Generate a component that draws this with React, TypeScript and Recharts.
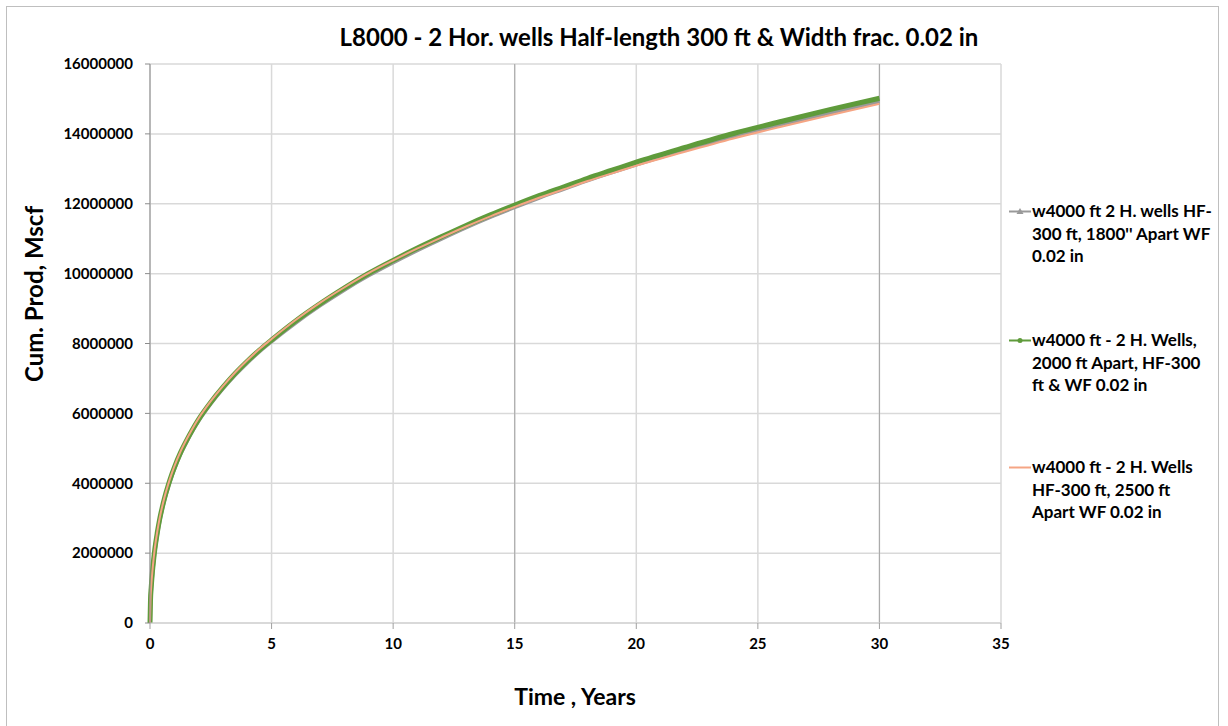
import { CartesianGrid, Line, LineChart, ReferenceLine, XAxis, YAxis } from "recharts";

// time axis, years
const years = [
  0, 0.02, 0.05, 0.1, 0.15, 0.2, 0.3, 0.4, 0.5, 0.6, 0.75, 0.9, 1, 1.25, 1.5, 1.75, 2, 2.5, 3, 3.5, 4, 4.5, 5, 6, 7,
  8, 9, 10, 11, 12, 13, 14, 15, 16, 17, 18, 19, 20, 22, 24, 26, 28, 30,
];

// cumulative production, Mscf
const apart1800 = [
  0, 620000, 990000, 1430000, 1780000, 2080000, 2550000, 2940000, 3260000, 3540000, 3900000, 4220000, 4410000,
  4830000, 5180000, 5500000, 5790000, 6280000, 6710000, 7100000, 7450000, 7770000, 8060000, 8600000, 9090000,
  9540000, 9950000, 10320000, 10670000, 11000000, 11320000, 11620000, 11900000, 12170000, 12420000, 12670000,
  12900000, 13120000, 13540000, 13930000, 14280000, 14610000, 14930000,
];
const apart2000 = [
  0, 640000, 1020000, 1470000, 1820000, 2120000, 2590000, 2980000, 3300000, 3580000, 3940000, 4260000, 4450000,
  4870000, 5220000, 5540000, 5830000, 6320000, 6750000, 7140000, 7490000, 7810000, 8100000, 8650000, 9140000,
  9590000, 10010000, 10380000, 10730000, 11060000, 11380000, 11680000, 11960000, 12230000, 12480000, 12730000,
  12960000, 13190000, 13610000, 14010000, 14360000, 14700000, 15020000,
];
const apart2500 = [
  0, 650000, 1040000, 1490000, 1850000, 2150000, 2620000, 3010000, 3330000, 3610000, 3970000, 4290000, 4480000,
  4900000, 5250000, 5570000, 5860000, 6350000, 6780000, 7170000, 7520000, 7840000, 8130000, 8680000, 9170000,
  9610000, 10020000, 10380000, 10720000, 11040000, 11350000, 11640000, 11910000, 12170000, 12410000, 12650000,
  12870000, 13090000, 13490000, 13870000, 14210000, 14540000, 14860000,
];

const xTicks = [0, 5, 10, 15, 20, 25, 30, 35];
const yTicks = [0, 2000000, 4000000, 6000000, 8000000, 10000000, 12000000, 14000000, 16000000];

const seriesNames = [
  ["w4000 ft 2 H. wells HF-", "300 ft, 1800'' Apart WF", "0.02 in"],
  ["w4000 ft - 2 H. Wells,", "2000 ft Apart, HF-300", "ft & WF 0.02 in"],
  ["w4000 ft - 2 H. Wells", "HF-300 ft, 2500 ft", "Apart WF 0.02 in"],
];

const FONT = "Lato, 'Open Sans', sans-serif";
const GRAY = "#999999";
const GREEN = "#5f9b3b";
const ORANGE = "#f5a584";

const data = years.map((t, i) => ({
  t,
  a1800: apart1800[i],
  a2000: apart2000[i],
  a2500: apart2500[i],
}));

function LegendBox() {
  const tops = [200, 329, 456];
  const colors = [GRAY, GREEN, ORANGE];
  return (
    <>
      {seriesNames.map((lines, i) => (
        <div key={i} style={{ position: "absolute", left: 1008, top: tops[i] }}>
          <svg width={24} height={23} style={{ position: "absolute", left: 0, top: 0 }}>
            <line x1={1} x2={23} y1={11.5} y2={11.5} stroke={colors[i]} strokeWidth={2} />
            {i === 0 && <polygon points="12,8 15.5,14 8.5,14" fill={GRAY} />}
            {i === 1 && <circle cx={12} cy={11.5} r={2.5} fill={GREEN} />}
          </svg>
          <div
            style={{
              position: "absolute",
              left: 24,
              top: 0,
              fontFamily: FONT,
              fontWeight: 700,
              fontSize: 17,
              lineHeight: "22.5px",
              whiteSpace: "nowrap",
              color: "#000",
            }}
          >
            {lines.map((l, j) => (
              <div key={j}>{l}</div>
            ))}
          </div>
        </div>
      ))}
    </>
  );
}

export default function App() {
  const tickStyle = { fontFamily: FONT, fontWeight: 700, fontSize: 15, fill: "#000" };
  return (
    <div style={{ position: "absolute", left: 0, top: 0, width: 1228, height: 726, overflow: "hidden", background: "#fff" }}>
      <div
        style={{
          position: "absolute",
          left: 6,
          top: 6,
          width: 1211,
          height: 760,
          border: "1px solid #bfbfbf",
        }}
      />
      <LineChart
        width={1228}
        height={726}
        data={data}
        margin={{ top: 64, right: 227, bottom: 73, left: 70 }}
        style={{ position: "absolute", left: 0, top: 0 }}
      >
        <CartesianGrid stroke="#d9d9d9" strokeWidth={1.5} />
        <XAxis
          dataKey="t"
          type="number"
          domain={[0, 35]}
          ticks={xTicks}
          interval={0}
          height={30}
          stroke="#d0d0d0"
          tickLine={{ stroke: "#a0a0a0" }}
          tickSize={6}
          tickMargin={9}
          tick={tickStyle}
        />
        <YAxis
          type="number"
          domain={[0, 16000000]}
          ticks={yTicks}
          interval={0}
          width={80}
          stroke="#8c8c8c"
          tickSize={5}
          tickMargin={12}
          tick={tickStyle}
        />
        <ReferenceLine x={15} stroke="#a8a8a8" />
        <ReferenceLine x={30} stroke="#a8a8a8" />
        <Line dataKey="a1800" type="monotone" stroke={GRAY} strokeWidth={4} dot={false} isAnimationActive={false} />
        <Line dataKey="a2000" type="monotone" stroke={GREEN} strokeWidth={5} dot={false} isAnimationActive={false} />
        <Line dataKey="a2500" type="monotone" stroke={ORANGE} strokeWidth={2} dot={false} isAnimationActive={false} />
        <text x={659} y={46} textAnchor="middle" style={{ fontFamily: FONT, fontWeight: 700, fontSize: 24 }}>
          L8000 - 2 Hor. wells Half-length 300 ft &amp; Width frac. 0.02 in
        </text>
        <text
          x={43}
          y={294}
          textAnchor="middle"
          transform="rotate(-90 43 294)"
          style={{ fontFamily: FONT, fontWeight: 700, fontSize: 24 }}
        >
          Cum. Prod, Mscf
        </text>
        <text x={575} y={705} textAnchor="middle" style={{ fontFamily: FONT, fontWeight: 700, fontSize: 23 }}>
          Time , Years
        </text>
      </LineChart>
      <LegendBox />
    </div>
  );
}
